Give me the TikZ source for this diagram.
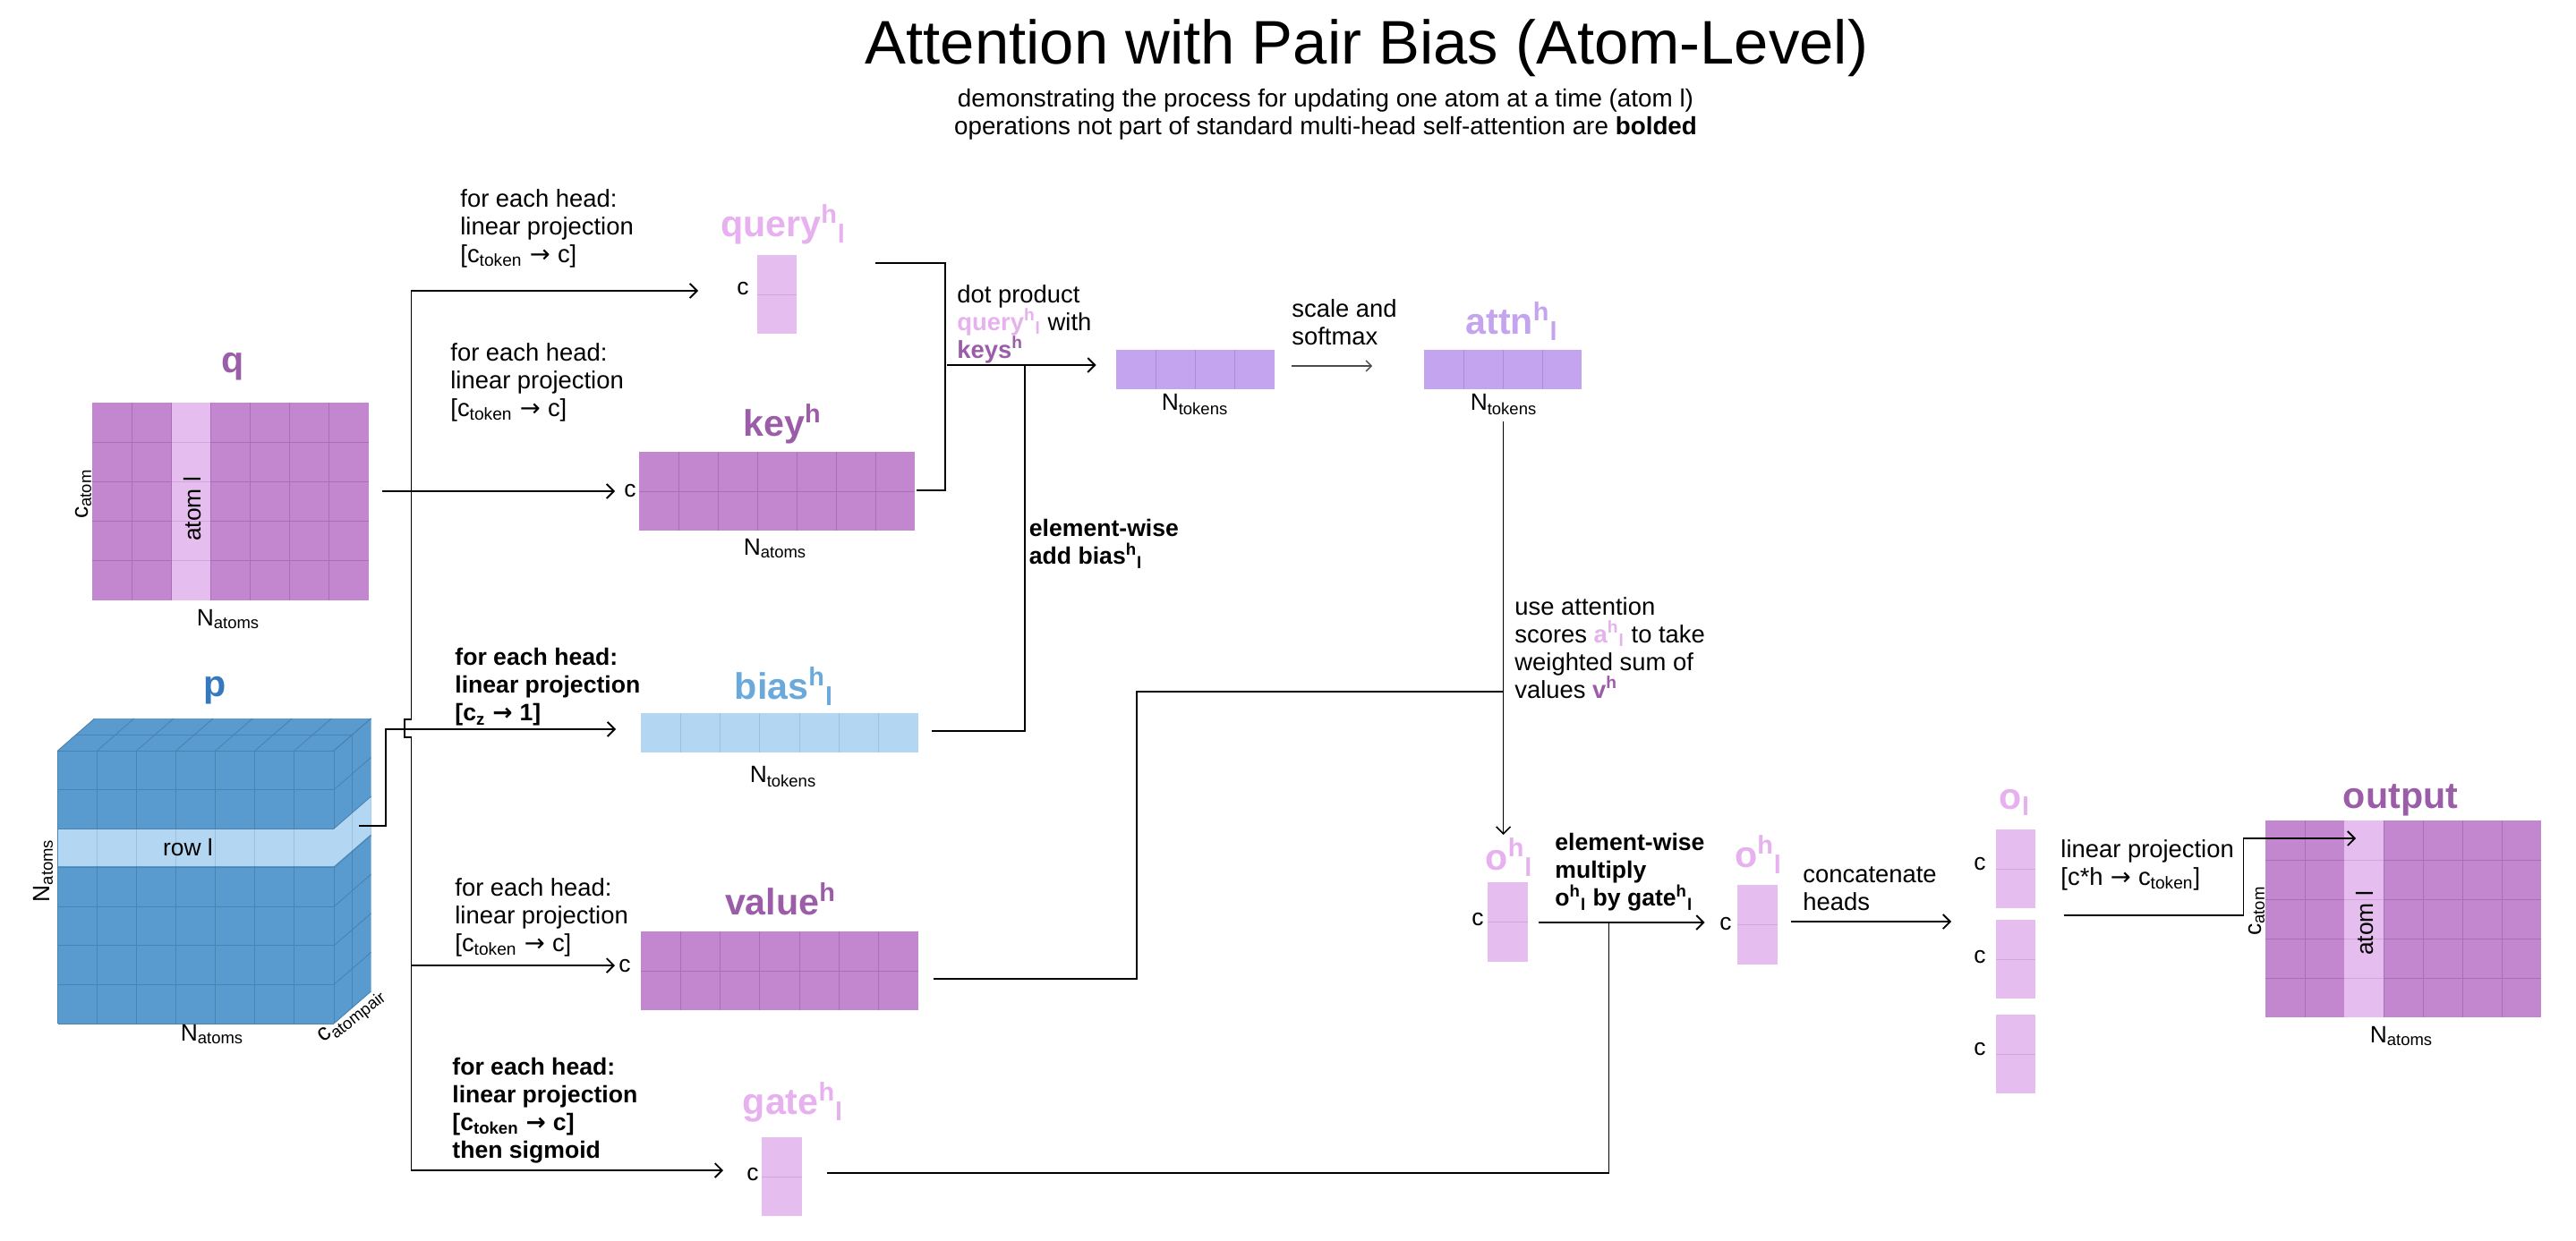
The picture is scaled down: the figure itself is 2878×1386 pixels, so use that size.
\documentclass[tikz,border=0pt]{standalone}
\usepackage{fontspec}
\setmainfont{Liberation Sans}
\newfontfamily\arrowfont{DejaVu Sans}
\usetikzlibrary{arrows.meta}
\definecolor{matP}{HTML}{C287CE}
\definecolor{matL}{HTML}{A86FB6}
\definecolor{hiP}{HTML}{E5BDEE}
\definecolor{hiL}{HTML}{D2A5DC}
\definecolor{labP}{HTML}{9B5DA8}
\definecolor{labQ}{HTML}{E6B1EE}
\definecolor{lav}{HTML}{C4A4EE}
\definecolor{lavL}{HTML}{AD8CD8}
\definecolor{labA}{HTML}{C4A4EE}
\definecolor{cubeB}{HTML}{5A9BCF}
\definecolor{cubeL}{HTML}{4A82B0}
\definecolor{liteB}{HTML}{B3D7F2}
\definecolor{liteL}{HTML}{9CC2E0}
\definecolor{labPb}{HTML}{3578BE}
\definecolor{labB}{HTML}{6AA9DC}
\tikzset{
  conn/.style={line width=0.9pt,black,-{Straight Barb[length=4pt,width=8pt]},line join=miter},
  plainconn/.style={line width=0.9pt,black,line join=miter},
  thinconn/.style={line width=0.7pt,black!70,-{Straight Barb[length=3pt,width=6pt]}},
  tx/.style={anchor=west,inner sep=0pt,align=left,font=\fontsize{13.7}{15.5}\selectfont},
  txb/.style={tx,font=\fontsize{13.3}{15.5}\selectfont\bfseries},
  dim/.style={anchor=center,inner sep=0pt,font=\fontsize{13.2}{15}\selectfont},
  lab/.style={anchor=center,inner sep=0pt,font=\fontsize{20.6}{24}\selectfont\bfseries},
  boxn/.style={inner sep=0pt,outer sep=0pt,anchor=center},
  grid line/.style={line width=0.45pt},
}
\newcommand{\supl}{\textsuperscript{h}\textsubscript{l}}
\newcommand{\sups}{\textsuperscript{h}}
\newcommand{\arr}{\hspace{0.3em}{\arrowfont →}\hspace{0.3em}}
% name x1 y1 x2 y2 cols rows fill line
\newcommand{\gridbox}[9]{%
  \node[boxn,fill=#8,minimum width={(#4-#2)*0.5pt},minimum height={(#5-#3)*0.5pt}] (#1) at ({(#2+#4)/2},{(#3+#5)/2}) {};
  \pgfmathtruncatemacro{\cc}{#6-1}%
  \pgfmathtruncatemacro{\rr}{#7-1}%
  \ifnum\cc>0
  \foreach \i in {1,...,\cc} {\draw[grid line,#9] ({#2+(#4-#2)*\i/#6},#3) -- ({#2+(#4-#2)*\i/#6},#5);}
  \fi
  \ifnum\rr>0
  \foreach \j in {1,...,\rr} {\draw[grid line,#9] (#2,{#3+(#5-#3)*\j/#7}) -- (#4,{#3+(#5-#3)*\j/#7});}
  \fi
}
\begin{document}
\begin{tikzpicture}[x=0.5pt,y=-0.5pt]
\useasboundingbox (0,0) rectangle (2878,1386);
\fill[white] (0,0) rectangle (2878,1386);

% title
\node[anchor=center,inner sep=0pt,font=\fontsize{34.4}{38}\selectfont] (title) at (1527,54) {Attention with Pair Bias (Atom-Level)};
\node[anchor=center,inner sep=0pt,align=center,font=\fontsize{13.9}{15.5}\selectfont] (subtitle) at (1481,128) {demonstrating the process for updating one atom at a time (atom l)\\operations not part of standard multi-head self-attention are \textbf{bolded}};

% q matrix
\gridbox{q}{103}{450}{412}{671}{7}{5}{matP}{matL}
\gridbox{qhi}{192}{450}{235}{671}{1}{5}{hiP}{hiL}
\node[lab,text=labP] (qlab) at (260,410) {q};
\node[dim,rotate=90] (qc) at (93,552) {c\textsubscript{atom}};
\node[dim] (qn) at (255,692) {N\textsubscript{atoms}};
\node[dim,rotate=90] (qa) at (215,569) {atom l};

% p cube
\fill[cubeB] (64.5,839) -- (105.7,803) -- (414.5,803) -- (414.5,1108) -- (373,1144) -- (64.5,1144) -- cycle;
\foreach \i in {0,...,7} {
  \draw[grid line,cubeL] ({64.5+44.07*\i},839) -- ({105.7+44.11*\i},803);
  \draw[grid line,cubeL] ({64.5+44.07*\i},839) -- ({64.5+44.07*\i},1144);
}
\draw[grid line,cubeL] (85.1,821) -- (393.8,821);
\draw[grid line,cubeL] (393.8,821) -- (393.8,1126);
\foreach \j in {0,...,7} {
  \draw[grid line,cubeL] (64.5,{839+43.57*\j}) -- (373,{839+43.57*\j});
  \draw[grid line,cubeL] (373,{839+43.57*\j}) -- (414.5,{803+43.57*\j});
}
\fill[liteB] (373,927) -- (414.5,891) -- (414.5,932) -- (373,968) -- cycle;
\draw[grid line,liteL] (393.8,909) -- (393.8,950);
\gridbox{prow}{64.5}{927}{373}{968}{7}{1}{liteB}{liteL}
\node[lab,text=labPb] (plab) at (240,772) {p};
\node[dim] (prowt) at (210,947) {row l};
\node[dim,rotate=90] (pn1) at (48,973) {N\textsubscript{atoms}};
\node[dim] (pn2) at (237,1156) {N\textsubscript{atoms}};
\node[dim,rotate=38] (pc) at (394,1137) {c\textsubscript{atompair}};

% projections text
\node[tx] (t1) at (514,255) {for each head:\\linear projection\\{[c\textsubscript{token}\arr c]}};
\node[tx] (t2) at (503,427) {for each head:\\linear projection\\{[c\textsubscript{token}\arr c]}};
\node[txb] (t3) at (508,768) {for each head:\\linear projection\\{[c\textsubscript{z}\arr 1]}};
\node[tx] (t4) at (508,1025) {for each head:\\linear projection\\{[c\textsubscript{token}\arr c]}};
\node[txb] (t5) at (505,1241) {for each head:\\linear projection\\{[c\textsubscript{token}\arr c]}\\then sigmoid};

% query
\gridbox{query}{846}{285}{890}{373}{1}{2}{hiP}{hiL}
\node[lab,text=labQ] (querylab) at (875,251) {query\supl};
\node[dim] (queryc) at (830,323) {c};
% key
\gridbox{key}{714}{505}{1022}{593}{7}{2}{matP}{matL}
\node[lab,text=labP] (keylab) at (874,474) {key\sups};
\node[dim] (keyc) at (704,549) {c};
\node[dim] (keyn) at (866,613) {N\textsubscript{atoms}};
% bias
\gridbox{bias}{716}{797}{1026}{841}{7}{1}{liteB}{liteL}
\node[lab,text=labB] (biaslab) at (876,767) {bias\supl};
\node[dim] (biasn) at (875,868) {N\textsubscript{tokens}};
% value
\gridbox{value}{716}{1041}{1026}{1129}{7}{2}{matP}{matL}
\node[lab,text=labP] (valuelab) at (872,1005) {value\sups};
\node[dim] (valuec) at (698,1080) {c};
% gate
\gridbox{gate}{851}{1271}{896}{1359}{1}{2}{hiP}{hiL}
\node[lab,text=labQ] (gatelab) at (886,1232) {gate\supl};
\node[dim] (gatec) at (841,1313) {c};

% dot product
\node[tx] (t6) at (1069,362) {dot product\\\textcolor{labQ}{\textbf{query\supl}} with\\\textcolor{labP}{\textbf{keys\sups}}};
\gridbox{dot}{1247}{391}{1423.5}{435}{4}{1}{lav}{lavL}
\node[dim] (dotn) at (1335,452) {N\textsubscript{tokens}};
\node[tx] (t7) at (1443,360) {scale and\\softmax};
\gridbox{attn}{1591}{391}{1767}{435}{4}{1}{lav}{lavL}
\node[lab,text=labA] (attnlab) at (1689,359) {attn\supl};
\node[dim] (attnn) at (1680,452) {N\textsubscript{tokens}};
\node[txb] (t8) at (1149.5,608) {element-wise\\add bias\supl};
\node[tx] (t9) at (1692,724) {use attention\\scores \textcolor{labQ}{\textbf{a\supl}} to take\\weighted sum of\\values \textcolor{labP}{\textbf{v\sups}}};

% o boxes
\gridbox{oa}{1662}{986}{1706.5}{1075}{1}{2}{hiP}{hiL}
\node[lab,text=labQ] (oalab) at (1686,958) {o\supl};
\node[dim] (oac) at (1651,1028) {c};
\node[txb] (t10) at (1737,975) {element-wise\\multiply\\o\supl{} by gate\supl};
\gridbox{ob}{1941}{989}{1986}{1078}{1}{2}{hiP}{hiL}
\node[lab,text=labQ] (oblab) at (1964.5,955) {o\supl};
\node[dim] (obc) at (1928,1033) {c};
\node[tx] (t11) at (2014,993) {concatenate\\heads};
\gridbox{oc}{2230}{927}{2274}{1015}{1}{2}{hiP}{hiL}
\gridbox{od}{2230}{1028}{2274}{1116}{1}{2}{hiP}{hiL}
\gridbox{oe}{2230}{1134}{2274}{1222}{1}{2}{hiP}{hiL}
\node[lab,text=labQ] (oclab) at (2251,897) {o\textsubscript{l}};
\node[dim] (occ) at (2212,966) {c};
\node[dim] (odc) at (2212,1070) {c};
\node[dim] (oec) at (2212,1173) {c};
\node[tx] (t12) at (2302,967) {linear projection\\{[c*h\arr c\textsubscript{token}]}};

% output
\gridbox{out}{2531}{917}{2839}{1137}{7}{5}{matP}{matL}
\gridbox{outhi}{2619}{917}{2663}{1137}{1}{5}{hiP}{hiL}
\node[lab,text=labP] (outlab) at (2682,894) {output};
\node[dim,rotate=90] (outc) at (2521,1018) {c\textsubscript{atom}};
\node[dim,rotate=90] (outa) at (2642,1032) {atom l};
\node[dim] (outn) at (2683,1158) {N\textsubscript{atoms}};

% connector anchors
\coordinate (qOut) at (427,549);
\coordinate (keyIn) at (687,549);
\coordinate (tTop) at (459.5,325);
\coordinate (queryIn) at (780,325);
\coordinate (bumpA) at (459.5,804);
\coordinate (bumpB) at (452,804);
\coordinate (bumpC) at (452,824);
\coordinate (bumpD) at (459.5,824);
\coordinate (tBot) at (459.5,1308);
\coordinate (gateIn) at (808,1308);
\coordinate (tVal) at (459.5,1079);
\coordinate (valueIn) at (687,1079);
\coordinate (pOut) at (401,923);
\coordinate (pUp) at (431,923);
\coordinate (pTurn) at (431,815);
\coordinate (biasIn) at (688,815);
\coordinate (queryOut) at (978,294);
\coordinate (qc1) at (1056,294);
\coordinate (qc2) at (1056,548);
\coordinate (keyOut) at (1024,548);
\coordinate (dotStart) at (1058,408);
\coordinate (dotIn) at (1224.5,408);
\coordinate (bv1) at (1145,408);
\coordinate (bv2) at (1145,817);
\coordinate (biasOut) at (1041,817);
\coordinate (scS) at (1443,409);
\coordinate (scE) at (1533,409);
\coordinate (attnOut) at (1679.6,471);
\coordinate (oIn) at (1679.6,933);
\coordinate (valOut) at (1042.5,1094);
\coordinate (vv1) at (1270,1094);
\coordinate (vv2) at (1270,773);
\coordinate (vv3) at (1679.6,773);
\coordinate (mS) at (1719,1031);
\coordinate (mE) at (1904.5,1031);
\coordinate (gOut) at (924,1311);
\coordinate (gv1) at (1797.5,1311);
\coordinate (gv2) at (1797.5,1031);
\coordinate (cS) at (2001,1030);
\coordinate (cE) at (2180,1030);
\coordinate (lS) at (2306,1023);
\coordinate (l1) at (2506.5,1023);
\coordinate (l2) at (2506.5,937);
\coordinate (lE) at (2632,937);

% connectors
\draw[plainconn] (bumpA) -- (bumpB) -- (bumpC) -- (bumpD) -- (tBot);
\draw[conn] (bumpA) -- (tTop) -- (queryIn);
\draw[conn] (bumpD) -- (tBot) -- (gateIn);
\draw[conn] (tVal) -- (valueIn);
\draw[conn] (qOut) -- (keyIn);
\draw[conn] (pOut) -- (pUp) -- (pTurn) -- (biasIn);
\draw[plainconn] (queryOut) -- (qc1) -- (qc2) -- (keyOut);
\draw[conn] (dotStart) -- (dotIn);
\draw[plainconn] (bv1) -- (bv2) -- (biasOut);
\draw[thinconn] (scS) -- (scE);
\draw[conn,line width=0.8pt] (attnOut) -- (oIn);
\draw[plainconn] (valOut) -- (vv1) -- (vv2) -- (vv3);
\draw[conn] (mS) -- (mE);
\draw[plainconn] (gOut) -- (gv1) -- (gv2);
\draw[conn] (cS) -- (cE);
\draw[conn] (lS) -- (l1) -- (l2) -- (lE);
\end{tikzpicture}
\end{document}
